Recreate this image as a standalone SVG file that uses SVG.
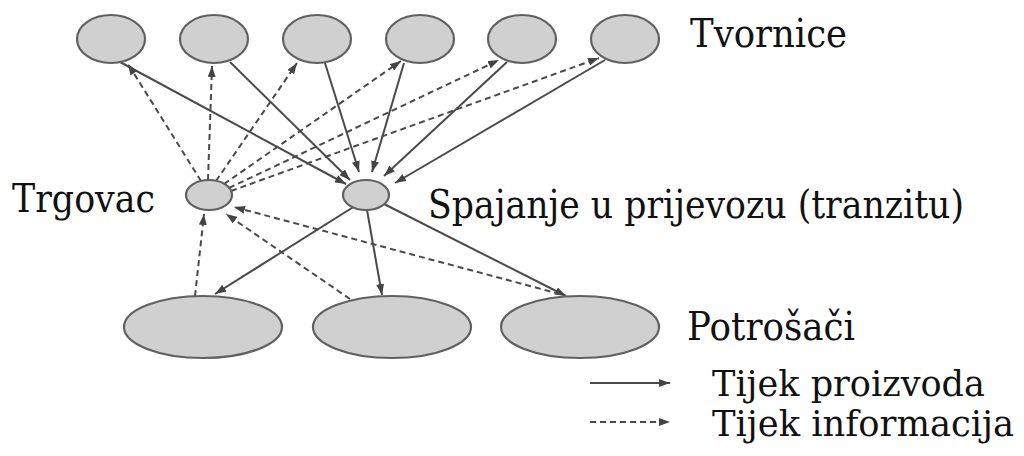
<svg xmlns="http://www.w3.org/2000/svg" width="1024" height="456" viewBox="0 0 1024 456">
<defs>
<marker id="ah" markerUnits="userSpaceOnUse" markerWidth="11" markerHeight="8" refX="11" refY="4" orient="auto"><path d="M0,0 L11,4 L0,8 z" fill="#444"/></marker>
<style>
.nd{fill:#d0d0d0;stroke:#606060;stroke-width:2.2}
.s{stroke:#4a4a4a;stroke-width:2;fill:none;marker-end:url(#ah)}
.d{stroke:#4a4a4a;stroke-width:2;fill:none;stroke-dasharray:6 4;marker-end:url(#ah)}
.t{font-family:'DejaVu Serif',serif;font-size:39px;fill:#111}
.l{font-family:'DejaVu Serif',serif;font-size:35px;fill:#111}
</style>
</defs>
<rect width="1024" height="456" fill="#fff"/>
<g id="connectors">
<path class="s" d="M120,62 L346,184"/>
<path class="s" d="M230,62 L350,180"/>
<path class="s" d="M325,63 L359,172"/>
<path class="s" d="M404,63 L372,172"/>
<path class="s" d="M507,62 L384,176"/>
<path class="s" d="M605,60 L395,183"/>
<path class="d" d="M201,181 L128,64"/>
<path class="d" d="M208,180 L212,66"/>
<path class="d" d="M216,181 L297,63"/>
<path class="d" d="M224,184 L401,61"/>
<path class="d" d="M229,188 L499,60"/>
<path class="d" d="M231,191 L599,58"/>
<path class="s" d="M355,206 L215,294"/>
<path class="s" d="M367,210 L382,295"/>
<path class="s" d="M384,204 L566,296"/>
<path class="d" d="M195,296 L204,214"/>
<path class="d" d="M350,299 L226,214"/>
<path class="d" d="M560,294 L234,207"/>
</g>
<g id="f1"><ellipse class="nd" cx="111" cy="39" rx="34" ry="24"/></g>
<g id="f2"><ellipse class="nd" cx="214" cy="39" rx="34" ry="24"/></g>
<g id="f3"><ellipse class="nd" cx="317" cy="39" rx="34" ry="24"/></g>
<g id="f4"><ellipse class="nd" cx="420" cy="39" rx="34" ry="24"/></g>
<g id="f5"><ellipse class="nd" cx="522" cy="39" rx="34" ry="24"/></g>
<g id="f6"><ellipse class="nd" cx="625" cy="39" rx="34" ry="24"/></g>
<g id="tvornice"><text class="t" x="690" y="47" textLength="157" lengthAdjust="spacingAndGlyphs">Tvornice</text></g>
<g id="trgovac"><ellipse class="nd" cx="209" cy="195" rx="23" ry="15"/><text class="t" x="12" y="212" textLength="143" lengthAdjust="spacingAndGlyphs">Trgovac</text></g>
<g id="hub"><ellipse class="nd" cx="366" cy="195" rx="23" ry="15"/><text class="t" x="428" y="218" textLength="536" lengthAdjust="spacingAndGlyphs">Spajanje u prijevozu (tranzitu)</text></g>
<g id="c1"><ellipse class="nd" cx="203" cy="327" rx="79" ry="31"/></g>
<g id="c2"><ellipse class="nd" cx="392" cy="327" rx="79" ry="31"/></g>
<g id="c3"><ellipse class="nd" cx="580" cy="327" rx="79" ry="31"/></g>
<g id="potrosaci"><text class="t" x="687" y="340" textLength="168" lengthAdjust="spacingAndGlyphs">Potrošači</text></g>
<g id="legend">
<path class="s" d="M590,383 L670,383"/>
<path class="d" d="M590,422 L670,422"/>
<text class="l" x="712" y="396" textLength="273" lengthAdjust="spacingAndGlyphs">Tijek proizvoda</text>
<text class="l" x="712" y="436" textLength="302" lengthAdjust="spacingAndGlyphs">Tijek informacija</text>
</g>
</svg>
